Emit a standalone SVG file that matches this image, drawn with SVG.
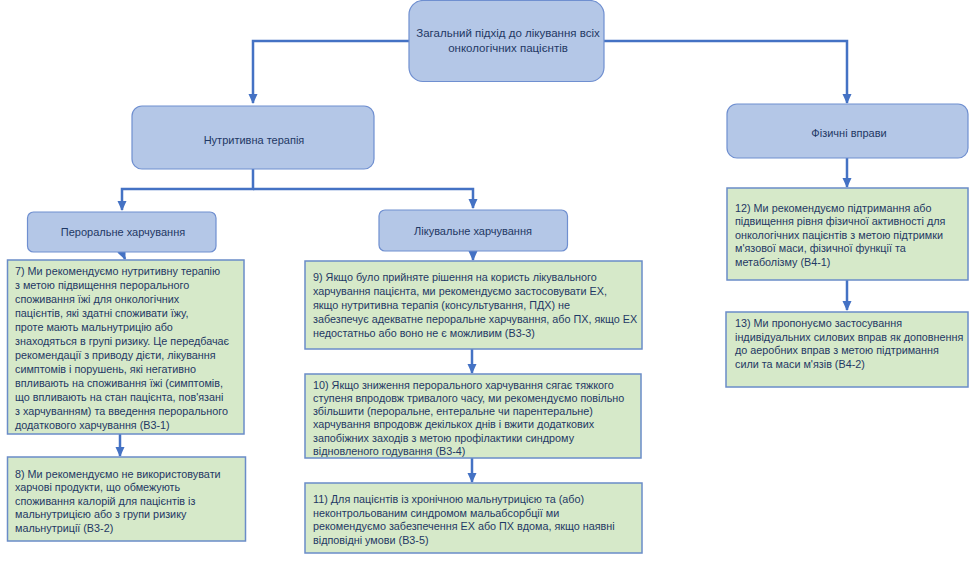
<svg xmlns="http://www.w3.org/2000/svg" width="976" height="563" viewBox="0 0 976 563">
<style>
.bg{fill:#ffffff}
.nb{fill:#b4c7e7;stroke:#6f8fd0;stroke-width:1.2}
.ng{fill:#d6e9c9;stroke:#6a8cc8;stroke-width:1.5}
.c{fill:none;stroke:#4472c4;stroke-width:2.5}
text{font-family:"Liberation Sans",Arial,sans-serif;font-size:10.8px;fill:#1f3864}
.m{text-anchor:middle;font-size:11px}
.r{font-size:11.5px}
</style>
<defs>
<marker id="ar" markerUnits="userSpaceOnUse" markerWidth="10" markerHeight="10" viewBox="0 0 10 10" refX="9" refY="5" orient="auto">
<path d="M0,0.5 L10,5 L0,9.5 Z" fill="#4472c4"/>
</marker>
</defs>
<rect class="bg" x="0" y="0" width="976" height="563"/>
<g id="connectors">
<path class="c" d="M409,41 H253 V103" marker-end="url(#ar)"/>
<path class="c" d="M604,41 H847 V103" marker-end="url(#ar)"/>
<path class="c" d="M253,169 V189 H122 V210" marker-end="url(#ar)"/>
<path class="c" d="M253,189 H473 V208" marker-end="url(#ar)"/>
<path class="c" d="M122,252 L125,259" marker-end="url(#ar)"/>
<path class="c" d="M120,433 V456" marker-end="url(#ar)"/>
<path class="c" d="M473,251 V260" marker-end="url(#ar)"/>
<path class="c" d="M472,349 V373" marker-end="url(#ar)"/>
<path class="c" d="M472,458 V482" marker-end="url(#ar)"/>
<path class="c" d="M847,158 V187" marker-end="url(#ar)"/>
<path class="c" d="M847,280 V310" marker-end="url(#ar)"/>
</g>
<g id="n-root">
<rect class="nb" x="409" y="0.5" width="195" height="81" rx="14"/>
<text class="m r" x="508" y="37">Загальний підхід до лікування всіх</text>
<text class="m r" x="508" y="52">онкологічних пацієнтів</text>
</g>
<g id="n-nutr">
<rect class="nb" x="132" y="106" width="242" height="63" rx="10"/>
<text class="m" x="254" y="144">Нутритивна терапія</text>
</g>
<g id="n-phys">
<rect class="nb" x="727" y="104" width="241" height="54" rx="10"/>
<text class="m" x="849" y="136.5">Фізичні вправи</text>
</g>
<g id="n-oral">
<rect class="nb" x="27.5" y="212" width="188.5" height="40" rx="6"/>
<text class="m" x="123" y="235.5">Пероральне харчування</text>
</g>
<g id="n-med">
<rect class="nb" x="379" y="210" width="188.5" height="41" rx="6"/>
<text class="m" x="473" y="235">Лікувальне харчування</text>
</g>
<g id="n7">
<rect class="ng" x="7.5" y="260" width="236.5" height="174"/>
<text x="15" y="275">7) Ми рекомендуємо нутритивну терапію</text>
<text x="15" y="289">з метою підвищення перорального</text>
<text x="15" y="303">споживання їжі для онкологічних</text>
<text x="15" y="317">пацієнтів, які здатні споживати їжу,</text>
<text x="15" y="331">проте мають мальнутрицію або</text>
<text x="15" y="345">знаходяться в групі ризику. Це передбачає</text>
<text x="15" y="359">рекомендації з приводу дієти, лікування</text>
<text x="15" y="373">симптомів і порушень, які негативно</text>
<text x="15" y="387">впливають на споживання їжі (симптомів,</text>
<text x="15" y="401">що впливають на стан пацієнта, пов'язані</text>
<text x="15" y="415">з харчуванням) та введення перорального</text>
<text x="15" y="429">додаткового харчування (В3-1)</text>
</g>
<g id="n8">
<rect class="ng" x="7.5" y="457" width="238" height="84"/>
<text x="15" y="477.5">8) Ми рекомендуємо не використовувати</text>
<text x="15" y="491">харчові продукти, що обмежують</text>
<text x="15" y="504.5">споживання калорій для пацієнтів із</text>
<text x="15" y="518">мальнутрицією  або з групи ризику</text>
<text x="15" y="532">мальнутриції  (В3-2)</text>
</g>
<g id="n9">
<rect class="ng" x="305" y="261" width="337" height="88"/>
<text x="313" y="280.5">9) Якщо було прийняте рішення на користь лікувального</text>
<text x="313" y="294.5">харчування пацієнта, ми рекомендуємо застосовувати ЕХ,</text>
<text x="313" y="308.5">якщо нутритивна терапія (консультування, ПДХ) не</text>
<text x="313" y="322.5">забезпечує адекватне пероральне харчування, або ПХ, якщо ЕХ</text>
<text x="313" y="336.5">недостатньо або воно не є можливим (В3-3)</text>
</g>
<g id="n10">
<rect class="ng" x="305" y="374" width="336" height="84"/>
<text x="313" y="388.5">10) Якщо зниження перорального харчування сягає тяжкого</text>
<text x="313" y="401.8">ступеня впродовж тривалого часу, ми рекомендуємо повільно</text>
<text x="313" y="415.1">збільшити (пероральне, ентеральне чи парентеральне)</text>
<text x="313" y="428.4">харчування впродовж декількох днів і вжити додаткових</text>
<text x="313" y="441.7">запобіжних заходів з метою профілактики синдрому</text>
<text x="313" y="455">відновленого годування (В3-4)</text>
</g>
<g id="n11">
<rect class="ng" x="305" y="483" width="337" height="70"/>
<text x="313" y="503">11) Для пацієнтів із хронічною  мальнутрицією та  (або)</text>
<text x="313" y="516.5">неконтрольованим синдромом мальабсорбції ми</text>
<text x="313" y="530">рекомендуємо забезпечення ЕХ або ПХ вдома, якщо наявні</text>
<text x="313" y="543.5">відповідні умови (В3-5)</text>
</g>
<g id="n12">
<rect class="ng" x="727" y="188" width="241" height="92"/>
<text x="735" y="211.5">12) Ми рекомендуємо підтримання або</text>
<text x="735" y="225">підвищення рівня фізичної активності для</text>
<text x="735" y="238.5">онкологічних пацієнтів з метою підтримки</text>
<text x="735" y="252">м'язової маси, фізичної функції та</text>
<text x="735" y="265.5">метаболізму (В4-1)</text>
</g>
<g id="n13">
<rect class="ng" x="726" y="312" width="242" height="75"/>
<text x="735" y="327">13) Ми пропонуємо застосування</text>
<text x="735" y="340.5">індивідуальних силових вправ як доповнення</text>
<text x="735" y="354">до аеробних вправ з метою підтримання</text>
<text x="735" y="367.5">сили та маси м'язів (В4-2)</text>
</g>
</svg>
